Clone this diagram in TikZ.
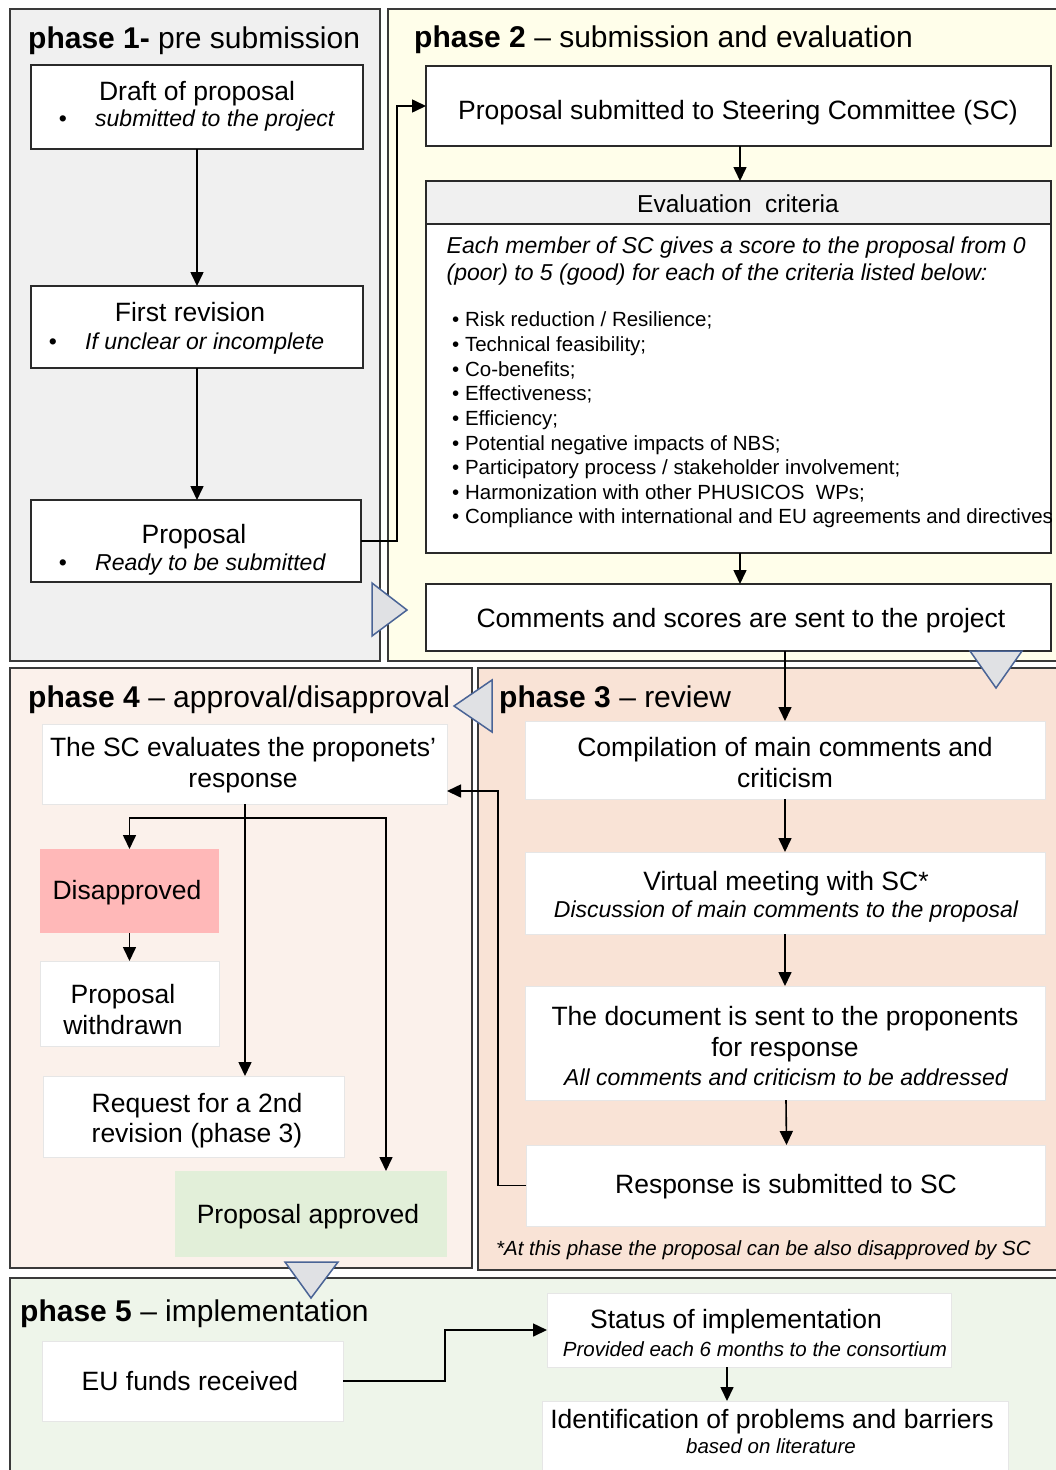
\documentclass[tikz,border=0pt]{standalone}
\usepackage{fontspec}
\setmainfont{Liberation Sans}
\usetikzlibrary{arrows.meta}
\definecolor{pone}{HTML}{F0F0F0}
\definecolor{ptwo}{HTML}{FFFEEA}
\definecolor{pthree}{HTML}{F9E3D6}
\definecolor{pfour}{HTML}{FBF1EB}
\definecolor{pfive}{HTML}{EEF5EA}
\definecolor{panelline}{HTML}{3A3A3A}
\definecolor{boxline}{HTML}{2A2A2A}
\definecolor{lightline}{HTML}{E6E6E6}
\definecolor{hdrfill}{HTML}{F0F0F0}
\definecolor{trifill}{HTML}{E0E1E4}
\definecolor{triline}{HTML}{4A6496}
\definecolor{disfill}{HTML}{FFB8B8}
\definecolor{appfill}{HTML}{E2EFD9}
\newcommand\FtMain{\fontsize{26.5}{31}\selectfont}
\newcommand\FtTitle{\fontsize{30}{36}\selectfont}
\newcommand\FtSub{\fontsize{23}{27}\selectfont\itshape}
\newcommand\FtSmall{\fontsize{20.5}{24.66}\selectfont}
\newcommand\FtHead{\fontsize{24.5}{29}\selectfont}
\tikzset{
  panel/.style={draw=panelline, line width=2pt},
  dbox/.style={draw=boxline, line width=1.4pt, fill=white, inner sep=0pt, outer sep=0pt},
  lbox/.style={draw=lightline, line width=1pt, fill=white, inner sep=0pt, outer sep=0pt},
  arr/.style={line width=1.6pt, -{Triangle[length=14pt,width=13pt]}},
  tri/.style={draw=triline, fill=trifill, line width=1.5pt, line join=miter},
  txt/.style={inner sep=0pt, anchor=base, font=\FtMain},
  txtl/.style={inner sep=0pt, anchor=base west, font=\FtMain},
}
\begin{document}
\begin{tikzpicture}[x=1pt,y=-1pt]
\useasboundingbox (0,0) rectangle (1056,1470);
\clip (0,0) rectangle (1056,1470);
\fill[white] (0,0) rectangle (1056,1470);

% panels
\draw[panel, fill=pone] (10,9) rectangle (380,661);
\draw[panel, fill=ptwo] (388,9) rectangle (1070,661);
\draw[panel, fill=pfour] (10,668) rectangle (472,1268);
\draw[panel, fill=pthree] (478,668) rectangle (1070,1270);
\draw[panel, fill=pfive] (10,1278) rectangle (1070,1490);

% titles
\node[txtl, font=\FtTitle] (t1) at (28,48) {\textbf{phase 1-} pre submission};
\node[txtl, font=\FtTitle] (t2) at (414,47) {\textbf{phase 2} – submission and evaluation};
\node[txtl, font=\FtTitle] (t4) at (28,707) {\textbf{phase 4} – approval/disapproval};
\node[txtl, font=\FtTitle] (t3) at (499,707) {\textbf{phase 3} – review};
\node[txtl, font=\FtTitle] (t5) at (20,1321) {\textbf{phase 5} – implementation};

% phase 1
\node[dbox, minimum width=332pt, minimum height=84pt] (draft) at (197,107) {};
\node[txt] at (197,100) {Draft of proposal};
\node[txt, font=\FtSub] at (63,126) {\upshape •};
\node[txtl, font=\FtSub] at (95,126) {submitted to the project};

\node[dbox, minimum width=332pt, minimum height=82pt] (rev1) at (197,327) {};
\node[txt] at (190,321) {First revision};
\node[txt, font=\FtSub] at (53,349) {\upshape •};
\node[txtl, font=\FtSub] at (85,349) {If unclear or incomplete};

\node[dbox, minimum width=330pt, minimum height=82pt] (prop) at (196,541) {};
\node[txt] at (194,543) {Proposal};
\node[txt, font=\FtSub] at (63,570) {\upshape •};
\node[txtl, font=\FtSub] at (95,570) {Ready to be submitted};

% phase 2
\node[dbox, minimum width=625pt, minimum height=80pt] (subm) at (738.5,106) {};
\node[txt] at (738,119.5) {Proposal submitted to Steering Committee (SC)};

\node[dbox, minimum width=625pt, minimum height=372pt] (eval) at (738.5,367) {};
\node[dbox, fill=hdrfill, minimum width=625pt, minimum height=43pt, anchor=north] (evalhd) at (eval.north) {};
\node[txt, font=\FtHead] at (738,212) {Evaluation\ \ criteria};
\node[txtl, font=\FtSub] at (446.5,253) {Each member of SC gives a score to the proposal from 0};
\node[txtl, font=\FtSub] at (446.5,280) {(poor) to 5 (good) for each of the criteria listed below:};
\foreach \t [count=\i from 0] in {Risk reduction / Resilience;, Technical feasibility;, Co-benefits;, Effectiveness;, Efficiency;, Potential negative impacts of NBS;, Participatory process / stakeholder involvement;, Harmonization with other PHUSICOS\ \ WPs;, Compliance with international and EU agreements and directives}
  \node[txtl, font=\FtSmall] at (452,326.7+24.66*\i) {• \t};

\node[dbox, minimum width=625pt, minimum height=67pt] (comm) at (738.5,617.5) {};
\node[txt] at (741,627) {Comments and scores are sent to the project};

% phase 4
\node[lbox, minimum width=405pt, minimum height=80pt] (scev) at (244.5,764) {};
\node[txt] at (243,756) {The SC evaluates the proponets’};
\node[txt] at (243,787) {response};

\node[lbox, draw=none, fill=disfill, minimum width=179pt, minimum height=84pt] (disap) at (129.5,891) {};
\node[txt] at (127,899) {Disapproved};

\node[lbox, minimum width=179pt, minimum height=85pt] (withd) at (129.5,1003.5) {};
\node[txt] at (123,1003) {Proposal};
\node[txt] at (123,1034) {withdrawn};

\node[lbox, minimum width=301pt, minimum height=81pt] (req) at (193.5,1116.5) {};
\node[txt] at (197,1112) {Request for a 2nd};
\node[txt] at (197,1142) {revision (phase 3)};

\node[lbox, draw=none, fill=appfill, minimum width=272pt, minimum height=86pt] (appr) at (311,1214) {};
\node[txt] at (308,1223) {Proposal approved};

% phase 3
\node[lbox, minimum width=520pt, minimum height=78pt] (comp) at (785,760) {};
\node[txt] at (785,756) {Compilation of main comments and};
\node[txt] at (785,787) {criticism};

\node[lbox, minimum width=520pt, minimum height=82pt] (virt) at (785,893) {};
\node[txt] at (786,890) {Virtual meeting with SC*};
\node[txt, font=\FtSub] at (786,917) {Discussion of main comments to the proposal};

\node[lbox, minimum width=520pt, minimum height=114pt] (docu) at (785,1043) {};
\node[txt] at (785,1025) {The document is sent to the proponents};
\node[txt] at (785,1056) {for response};
\node[txt, font=\FtSub] at (786,1085) {All comments and criticism to be addressed};

\node[lbox, minimum width=519pt, minimum height=81pt] (resp) at (785.5,1185.5) {};
\node[txt] at (786,1193) {Response is submitted to SC};

\node[txtl, font=\FtSmall\itshape] at (496,1255) {*At this phase the proposal can be also disapproved by SC};

% phase 5
\node[lbox, minimum width=301pt, minimum height=80pt] (eu) at (192.5,1381) {};
\node[txt] at (190,1390) {EU funds received};

\node[lbox, minimum width=404pt, minimum height=74pt] (stat) at (749,1330) {};
\node[txt] at (736,1328) {Status of implementation};
\node[txt, font=\FtSmall\itshape] at (755,1356) {Provided each 6 months to the consortium};

\node[lbox, minimum width=466pt, minimum height=79pt] (ident) at (775,1440.5) {};
\node[txt] at (772,1428) {Identification of problems and barriers};
\node[txt, font=\FtSmall\itshape] at (771,1453) {based on literature};

% connectors
\draw[arr] (draft.south) -- (rev1.north);
\draw[arr] (rev1.south) -- (rev1.south |- prop.north);
\draw[arr] (prop.east) -- ++(36,0) |- (subm.west);
\draw[arr] ([xshift=1.5pt]subm.south) -- ([xshift=1.5pt]eval.north);
\draw[arr] ([xshift=1.5pt]eval.south) -- ([xshift=1.5pt]comm.north);
\draw[arr] (comm.south -| comp.north) -- (comp.north);
\draw[arr] (comp.south) -- (virt.north);
\draw[arr] (virt.south) -- (docu.north);
\draw[arr] ([xshift=1pt]docu.south) -- ([xshift=1pt]resp.north);
\draw[arr] (resp.west) -- ++(-28,0) |- ([yshift=-27pt]scev.east);
\coordinate (br) at ([xshift=0.5pt,yshift=-14pt]scev.south);
\draw[arr] ([xshift=0.5pt]scev.south) -- ([xshift=0.5pt]scev.south |- req.north);
\draw[arr] (br) -| (disap.north);
\draw[arr] (br) -| ([xshift=75pt]appr.north);
\draw[arr] (disap.south) -- (withd.north);
\draw[arr] (eu.east) -- ++(102,0) |- (stat.west);
\draw[arr] ([xshift=-22pt]stat.south) -- ([xshift=-22pt]stat.south |- ident.north);

% phase transition triangles
\draw[tri] (372,583) -- (407,610) -- (372,636) -- cycle;
\draw[tri] (970,651) -- (1022,651) -- (996,688) -- cycle;
\draw[tri] (492,680) -- (454,706) -- (492,732) -- cycle;
\draw[tri] (285,1262) -- (338,1262) -- (311,1298) -- cycle;
\end{tikzpicture}
\end{document}
